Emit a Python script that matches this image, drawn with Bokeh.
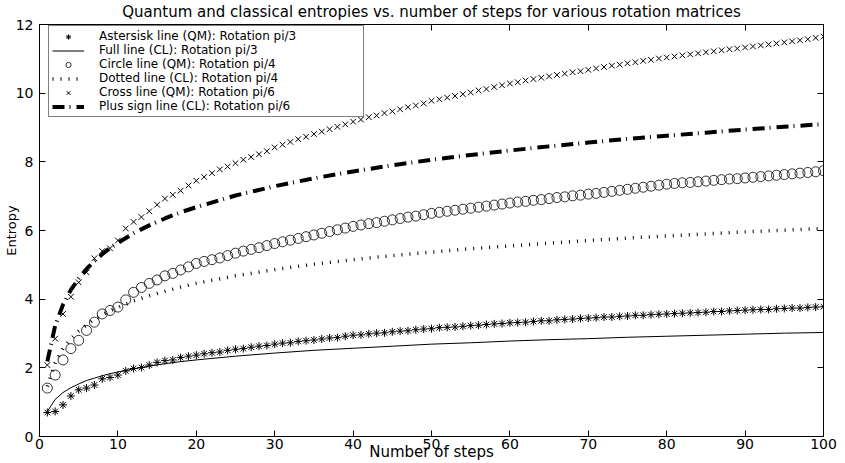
from bokeh.plotting import figure
from bokeh.models import Range1d, LinearAxis, FixedTicker, Legend, LegendItem, CustomLabelingPolicy
from bokeh.embed import file_html
from bokeh.resources import INLINE

# ---------------- data ----------------
steps = list(range(1, 101))

# QM, rotation pi/3 (asterisks)
qm_pi3 = [0.70, 0.73, 0.92, 1.18, 1.36, 1.41, 1.50, 1.68, 1.72, 1.79,
          1.91, 1.98, 2.01, 2.08, 2.16, 2.21, 2.23, 2.30, 2.34, 2.37,
          2.41, 2.44, 2.46, 2.51, 2.54, 2.56, 2.60, 2.63, 2.65, 2.69,
          2.72, 2.73, 2.77, 2.79, 2.81, 2.84, 2.87, 2.88, 2.92, 2.95,
          2.96, 2.99, 3.01, 3.02, 3.05, 3.07, 3.08, 3.11, 3.13, 3.14,
          3.17, 3.18, 3.19, 3.21, 3.23, 3.24, 3.26, 3.28, 3.29, 3.31,
          3.32, 3.33, 3.35, 3.37, 3.37, 3.40, 3.41, 3.42, 3.44, 3.45,
          3.46, 3.48, 3.48, 3.50, 3.51, 3.53, 3.53, 3.55, 3.56, 3.57,
          3.58, 3.59, 3.60, 3.61, 3.62, 3.64, 3.64, 3.66, 3.67, 3.68,
          3.69, 3.70, 3.70, 3.72, 3.73, 3.74, 3.74, 3.76, 3.77, 3.78]

# QM, rotation pi/4 (circles)
qm_pi4 = [1.41, 1.79, 2.23, 2.56, 2.80, 3.09, 3.33, 3.57, 3.67, 3.77,
          3.98, 4.20, 4.34, 4.46, 4.56, 4.68, 4.75, 4.85, 4.94, 5.04,
          5.10, 5.15, 5.20, 5.27, 5.34, 5.40, 5.45, 5.50, 5.56, 5.62,
          5.67, 5.72, 5.77, 5.82, 5.87, 5.92, 5.97, 6.02, 6.07, 6.12,
          6.16, 6.20, 6.23, 6.27, 6.31, 6.35, 6.39, 6.42, 6.46, 6.50,
          6.53, 6.56, 6.59, 6.62, 6.65, 6.68, 6.71, 6.74, 6.77, 6.80,
          6.83, 6.85, 6.88, 6.90, 6.93, 6.96, 6.98, 7.01, 7.03, 7.06,
          7.08, 7.11, 7.14, 7.17, 7.20, 7.23, 7.26, 7.29, 7.32, 7.35,
          7.37, 7.39, 7.40, 7.42, 7.44, 7.46, 7.48, 7.50, 7.51, 7.53,
          7.55, 7.57, 7.59, 7.61, 7.63, 7.65, 7.67, 7.69, 7.71, 7.74]

# QM, rotation pi/6 (crosses)
qm_pi6 = [2.08, 2.85, 3.57, 4.07, 4.49, 4.78, 5.19, 5.40, 5.48, 5.71,
          6.06, 6.25, 6.39, 6.56, 6.75, 6.93, 7.04, 7.16, 7.31, 7.45,
          7.56, 7.67, 7.78, 7.86, 7.96, 8.06, 8.14, 8.22, 8.31, 8.42,
          8.50, 8.58, 8.66, 8.73, 8.81, 8.88, 8.95, 9.02, 9.09, 9.17,
          9.23, 9.30, 9.35, 9.42, 9.47, 9.53, 9.59, 9.64, 9.70, 9.78,
          9.82, 9.87, 9.92, 9.97, 10.02, 10.08, 10.12, 10.18, 10.23, 10.28,
          10.32, 10.37, 10.41, 10.45, 10.49, 10.53, 10.57, 10.61, 10.64, 10.68,
          10.72, 10.76, 10.80, 10.83, 10.87, 10.90, 10.94, 10.97, 11.01, 11.04,
          11.07, 11.10, 11.13, 11.16, 11.19, 11.22, 11.25, 11.28, 11.30, 11.33,
          11.36, 11.39, 11.42, 11.45, 11.48, 11.51, 11.54, 11.57, 11.61, 11.65]

# CL curves (smooth lines)
cl_steps = [1, 2, 3, 4, 5, 6, 7, 8, 9, 10, 12, 14, 16, 18, 20, 25, 30, 35, 40,
            45, 50, 55, 60, 65, 70, 75, 80, 85, 90, 95, 100]
cl_pi3 = [0.73, 1.08, 1.28, 1.42, 1.53, 1.63, 1.70, 1.77, 1.83, 1.88, 1.97,
          2.05, 2.12, 2.18, 2.23, 2.34, 2.43, 2.51, 2.57, 2.63, 2.69, 2.73,
          2.78, 2.82, 2.85, 2.89, 2.92, 2.95, 2.98, 3.01, 3.03]
cl_pi4 = [1.46, 2.15, 2.56, 2.85, 3.07, 3.25, 3.41, 3.54, 3.66, 3.76, 3.95,
          4.10, 4.23, 4.35, 4.46, 4.68, 4.86, 5.02, 5.15, 5.27, 5.37, 5.47,
          5.55, 5.63, 5.71, 5.78, 5.84, 5.90, 5.96, 6.01, 6.06]
cl_pi6 = [2.19, 3.23, 3.84, 4.27, 4.60, 4.88, 5.11, 5.31, 5.49, 5.64, 5.92,
          6.15, 6.35, 6.53, 6.68, 7.02, 7.29, 7.52, 7.72, 7.90, 8.06, 8.20,
          8.33, 8.45, 8.56, 8.67, 8.76, 8.85, 8.94, 9.02, 9.10]

x_ticks = [0, 10, 20, 30, 40, 50, 60, 70, 80, 90, 100]
y_ticks = [0, 2, 4, 6, 8, 10, 12]

legend_labels = ["Astersisk line (QM): Rotation pi/3",
                 "Full line (CL): Rotation pi/3",
                 "Circle line (QM): Rotation pi/4",
                 "Dotted line (CL): Rotation pi/4",
                 "Cross line (QM): Rotation pi/6",
                 "Plus sign line (CL): Rotation pi/6"]

title_text = "Quantum and classical entropies vs. number of steps for various rotation matrices"

# ---------------- figure ----------------
FONT = "DejaVu Sans"

p = figure(width=845, height=463, x_range=Range1d(0, 100), y_range=Range1d(0, 12),
           output_backend="svg", toolbar_location=None, title=title_text,
           min_border_left=37, min_border_right=22, min_border_top=24,
           min_border_bottom=26)
p.background_fill_color = "white"
p.border_fill_color = "white"
p.outline_line_color = "black"
p.outline_line_width = 1
p.xgrid.visible = False
p.ygrid.visible = False

p.title.text_font = FONT
p.title.text_font_size = "15px"
p.title.text_font_style = "normal"
p.title.align = "center"
p.title.standoff = 0
p.title.text_color = "black"

no_labels = CustomLabelingPolicy(code="return new Set()")

def style_axis(ax, ticks, show_labels=True):
    ax.ticker = FixedTicker(ticks=ticks)
    ax.major_tick_in = 6
    ax.major_tick_out = 0
    ax.minor_tick_line_color = None
    ax.axis_line_color = "black"
    ax.major_tick_line_color = "black"
    ax.major_label_text_font = FONT
    ax.major_label_text_color = "black"
    if show_labels:
        ax.major_label_text_font_size = "14px"
    else:
        ax.major_label_policy = no_labels
        ax.major_label_text_font_size = "1px"
        ax.major_label_standoff = 0

xa = p.xaxis[0]
ya = p.yaxis[0]
style_axis(xa, x_ticks)
style_axis(ya, y_ticks)
xa.major_label_standoff = 2
ya.major_label_standoff = 6
xa.axis_label = "Number of steps"
xa.axis_label_text_font = FONT
xa.axis_label_text_font_size = "15px"
xa.axis_label_text_font_style = "normal"
xa.axis_label_text_color = "black"
xa.axis_label_standoff = -9
ya.axis_label = "Entropy"
ya.axis_label_text_font = FONT
ya.axis_label_text_font_size = "13px"
ya.axis_label_text_font_style = "normal"
ya.axis_label_text_color = "black"
ya.axis_label_standoff = -6

top_ax = LinearAxis()
style_axis(top_ax, x_ticks, show_labels=False)
p.add_layout(top_ax, "above")
right_ax = LinearAxis()
style_axis(right_ax, y_ticks, show_labels=False)
p.add_layout(right_ax, "right")

# ---------------- glyphs ----------------
r1 = p.scatter(steps, qm_pi3, marker="asterisk", size=8, line_color="black", line_width=1)
r2 = p.line(cl_steps, cl_pi3, line_color="black", line_width=1)
r3 = p.scatter(steps, qm_pi4, marker="circle", size=10, fill_color=None,
               line_color="black", line_width=0.8)
r4 = p.line(cl_steps, cl_pi4, line_color="black", line_width=3.5, line_dash="1 7")
r5 = p.scatter(steps, qm_pi6, marker="x", size=8, line_color="black", line_width=1)
r6 = p.line(cl_steps, cl_pi6, line_color="black", line_width=4, line_dash="12 5 1 6")

legend = Legend(items=[LegendItem(label=lab, renderers=[r])
                       for lab, r in zip(legend_labels, [r1, r2, r3, r4, r5, r6])],
                location=(9, 319))
legend.border_line_color = "black"
legend.border_line_width = 1
legend.background_fill_color = "white"
legend.background_fill_alpha = 1.0
legend.padding = 3
legend.spacing = 0
legend.margin = 0
legend.glyph_width = 32
legend.glyph_height = 13
legend.label_height = 13
legend.label_standoff = 15
legend.label_width = 261
legend.label_text_font = FONT
legend.label_text_font_size = "12px"
legend.label_text_color = "black"
p.add_layout(legend)

open("out.html", "w").write(file_html(p, INLINE))
